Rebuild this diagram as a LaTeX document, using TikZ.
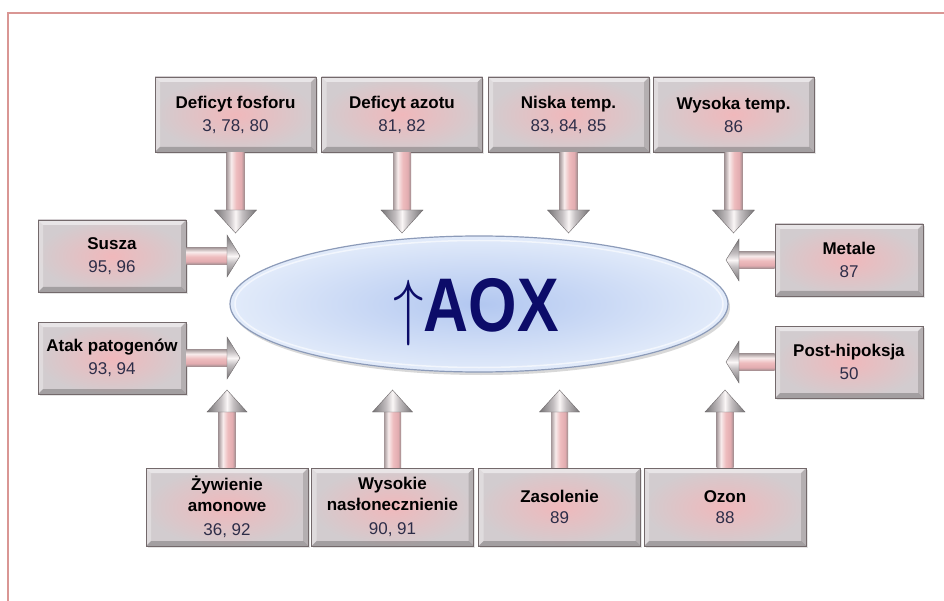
\documentclass[tikz,border=0pt]{standalone}
\usepackage{fontspec}
\setmainfont{Liberation Sans}
\usepackage{graphicx}
\usetikzlibrary{shapes.geometric,shadows,calc}

\definecolor{framepink}{RGB}{217,150,148}
\definecolor{boxpink}{RGB}{240,184,187}
\definecolor{boxgray}{RGB}{210,204,207}
\definecolor{boxedge}{RGB}{115,105,107}
\definecolor{numcol}{RGB}{45,45,72}
\definecolor{aoxblue}{RGB}{12,12,105}
\definecolor{ellin}{RGB}{178,199,240}
\definecolor{ellout}{RGB}{226,235,250}
\definecolor{elledge}{RGB}{140,155,185}
\definecolor{sEdge}{RGB}{165,152,154}
\definecolor{sHi}{RGB}{248,236,236}
\definecolor{sPink}{RGB}{238,188,190}
\definecolor{sPinkB}{RGB}{226,172,176}
\definecolor{sEdgeB}{RGB}{158,140,142}
\definecolor{hEdge}{RGB}{118,116,118}
\definecolor{hMid}{RGB}{195,190,192}
\definecolor{hHi}{RGB}{250,246,246}
\definecolor{hLine}{RGB}{110,105,107}

\pgfdeclarehorizontalshading{shaftV}{100bp}{color(0bp)=(sEdge); color(25bp)=(sEdge); color(38bp)=(sHi); color(52bp)=(sPink); color(66bp)=(sPinkB); color(75bp)=(sEdgeB); color(100bp)=(sEdgeB)}
\pgfdeclarehorizontalshading{headV}{100bp}{color(0bp)=(hEdge); color(25bp)=(hEdge); color(42bp)=(hMid); color(50bp)=(hHi); color(58bp)=(hMid); color(75bp)=(hEdge); color(100bp)=(hEdge)}
\pgfdeclareverticalshading{shaftH}{100bp}{color(0bp)=(sEdgeB); color(25bp)=(sEdgeB); color(34bp)=(sPinkB); color(48bp)=(sPink); color(62bp)=(sHi); color(75bp)=(sEdge); color(100bp)=(sEdge)}
\pgfdeclareverticalshading{headH}{100bp}{color(0bp)=(hEdge); color(25bp)=(hEdge); color(42bp)=(hMid); color(50bp)=(hHi); color(58bp)=(hMid); color(75bp)=(hEdge); color(100bp)=(hEdge)}

% block arrows: #1 = start anchor on a box, #2 = tip coordinate
\newcommand{\arrD}[2]{%
  \path[shading=shaftV] ([xshift=-9pt]#1) rectangle ([xshift=9pt,yshift=22pt]#2);
  \path[shading=headV,draw=hLine,line width=0.4pt] ([xshift=-21pt,yshift=23pt]#2) -- (#2) -- ([xshift=21pt,yshift=23pt]#2) -- cycle;}
\newcommand{\arrU}[2]{%
  \path[shading=shaftV] ([xshift=-8.5pt]#1) rectangle ([xshift=8.5pt,yshift=-21pt]#2);
  \path[shading=headV,draw=hLine,line width=0.4pt] ([xshift=-20pt,yshift=-22pt]#2) -- (#2) -- ([xshift=20pt,yshift=-22pt]#2) -- cycle;}
\newcommand{\arrR}[2]{%
  \path[shading=shaftH] ([yshift=8.5pt]#1) rectangle ([xshift=-12pt,yshift=-8.5pt]#2);
  \path[shading=headH,draw=hLine,line width=0.4pt] ([xshift=-13pt,yshift=21pt]#2) -- (#2) -- ([xshift=-13pt,yshift=-21pt]#2) -- cycle;}
\newcommand{\arrL}[2]{%
  \path[shading=shaftH] ([yshift=8.5pt]#1) rectangle ([xshift=12pt,yshift=-8.5pt]#2);
  \path[shading=headH,draw=hLine,line width=0.4pt] ([xshift=13pt,yshift=21pt]#2) -- (#2) -- ([xshift=13pt,yshift=-21pt]#2) -- cycle;}

\begin{document}
\begin{tikzpicture}[x=1pt,y=-1pt,
  bevbox/.style={rectangle, inner sep=0pt, draw=boxedge, line width=0.7pt,
    inner color=boxpink, outer color=boxgray, align=center,
    font=\fontsize{17}{21}\selectfont,
    drop shadow={opacity=0.2, shadow xshift=1.5pt, shadow yshift=-2pt},
    path picture={
      \path (path picture bounding box.north west) coordinate (ppnw)
            (path picture bounding box.north east) coordinate (ppne)
            (path picture bounding box.south west) coordinate (ppsw)
            (path picture bounding box.south east) coordinate (ppse);
      \fill[white,opacity=0.5] (ppnw) -- (ppne) -- ([xshift=-5pt,yshift=-5pt]ppne) -- ([xshift=5pt,yshift=-5pt]ppnw) -- cycle;
      \fill[white,opacity=0.3] (ppnw) -- ([xshift=5pt,yshift=-5pt]ppnw) -- ([xshift=5pt,yshift=5pt]ppsw) -- (ppsw) -- cycle;
      \fill[black,opacity=0.22] (ppsw) -- (ppse) -- ([xshift=-5pt,yshift=5pt]ppse) -- ([xshift=5pt,yshift=5pt]ppsw) -- cycle;
      \fill[black,opacity=0.14] (ppne) -- (ppse) -- ([xshift=-5pt,yshift=5pt]ppse) -- ([xshift=-5pt,yshift=-5pt]ppne) -- cycle;
    }},
  topbox/.style={bevbox, minimum width=161pt, minimum height=75pt},
  sidebox/.style={bevbox, minimum width=148pt, minimum height=72pt},
  botbox/.style={bevbox, minimum width=162pt, minimum height=78pt}]

\useasboundingbox (0,0) rectangle (944,601);
\fill[white] (0,0) rectangle (944,601);

% frame
\draw[framepink, line width=2.5pt] (8,601) -- (8,13) -- (944,13);

% central ellipse
\node[ellipse, minimum width=498pt, minimum height=136pt, inner color=ellin, outer color=ellout,
      draw=elledge, line width=1.2pt,
      drop shadow={opacity=0.3, shadow xshift=2pt, shadow yshift=-3pt}] (aox) at (479,304) {};
\draw[white, opacity=0.6, line width=1.5pt] (aox.center) ellipse [x radius=244pt, y radius=63.5pt];
\node[anchor=base, text=aoxblue, inner sep=0pt, font=\fontsize{76}{80}\selectfont] (aoxlabel) at (476,331)
  {\scalebox{0.82}[1]{\scalebox{7.4}{\normalsize$\uparrow$}\textbf{AOX}}};

% top boxes
\node[topbox] (b1) at (235.5,114.5) {\textbf{Deficyt fosforu}\\[2pt]{\color{numcol}3, 78, 80}};
\node[topbox] (b2) at (402,114.5) {\textbf{Deficyt azotu}\\[2pt]{\color{numcol}81, 82}};
\node[topbox] (b3) at (568.5,114.5) {\textbf{Niska temp.}\\[2pt]{\color{numcol}83, 84, 85}};
\node[topbox] (b4) at (733.5,114.5) {\textbf{Wysoka temp.}\\[2pt]{\color{numcol}86}};

% side boxes
\node[sidebox] (l1) at (112,256) {\textbf{Susza}\\[2pt]{\color{numcol}95, 96}};
\node[sidebox] (l2) at (112,358) {\textbf{Atak patogenów}\\[2pt]{\color{numcol}93, 94}};
\node[sidebox] (r1) at (849,260) {\textbf{Metale}\\[2pt]{\color{numcol}87}};
\node[sidebox] (r2) at (849,362) {\textbf{Post-hipoksja}\\[2pt]{\color{numcol}50}};

% bottom boxes
\node[botbox] (d1) at (227,507) {\textbf{Żywienie}\\\textbf{amonowe}\\[3pt]{\color{numcol}36, 92}};
\node[botbox] (d2) at (392.5,507) {\textbf{Wysokie}\\\textbf{nasłonecznienie}\\[3pt]{\color{numcol}90, 91}};
\node[botbox] (d3) at (559.5,507) {\textbf{Zasolenie}\\[0pt]{\color{numcol}89}};
\node[botbox] (d4) at (725,507) {\textbf{Ozon}\\[0pt]{\color{numcol}88}};

% arrow tip rows / columns
\coordinate (rowtop) at (0,233);
\coordinate (rowbot) at (0,390);
\coordinate (colleft) at (240,0);
\coordinate (colright) at (726,0);

\coordinate (tb1) at (b1.south |- rowtop);
\coordinate (tb2) at (b2.south |- rowtop);
\coordinate (tb3) at (b3.south |- rowtop);
\coordinate (tb4) at (b4.south |- rowtop);
\coordinate (td1) at (d1.north |- rowbot);
\coordinate (td2) at (d2.north |- rowbot);
\coordinate (td3) at (d3.north |- rowbot);
\coordinate (td4) at (d4.north |- rowbot);
\coordinate (tl1) at (l1.east -| colleft);
\coordinate (tl2) at (l2.east -| colleft);
\coordinate (tr1) at (r1.west -| colright);
\coordinate (tr2) at (r2.west -| colright);

\arrD{b1.south}{tb1}
\arrD{b2.south}{tb2}
\arrD{b3.south}{tb3}
\arrD{b4.south}{tb4}
\arrU{d1.north}{td1}
\arrU{d2.north}{td2}
\arrU{d3.north}{td3}
\arrU{d4.north}{td4}
\arrR{l1.east}{tl1}
\arrR{l2.east}{tl2}
\arrL{r1.west}{tr1}
\arrL{r2.west}{tr2}
\end{tikzpicture}
\end{document}
